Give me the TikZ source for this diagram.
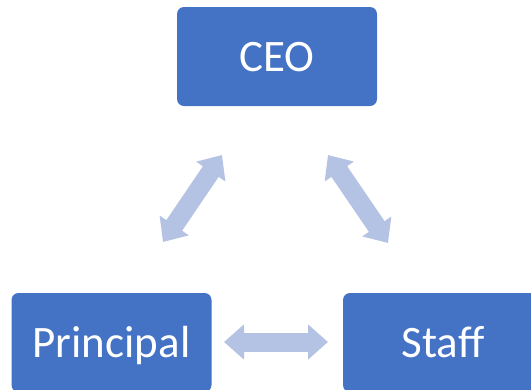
\documentclass[tikz,border=0pt]{standalone}
\usepackage{fontspec}
\setmainfont{Carlito}
\usetikzlibrary{arrows.meta}
\definecolor{boxblue}{RGB}{68,114,196}
\definecolor{arrowblue}{RGB}{180,194,227}
\begin{document}
\begin{tikzpicture}[x=1pt,y=-1pt]
    \tikzset{every node/.style={font=\fontsize{45}{54}\selectfont, text=white},
        role/.style={fill=boxblue, rounded corners=7pt, minimum width=200pt,
            minimum height=99pt, inner sep=0pt, text height=29pt, text depth=0pt},
        link/.style={arrowblue, line width=19pt,
            {Triangle[width=34pt,length=20pt]}-{Triangle[width=34pt,length=20pt]}}}
    \useasboundingbox (0,0) rectangle (531,389);
    \clip (0,0) rectangle (531,389);
    % boxes
    \node[role] (ceo) at (277,56.5) {CEO};
    \node[role] (principal) at (111.5,342.5) {Principal};
    \node[role] (staff) at (443,342.5) {Staff};
    % arrow ends
    \coordinate (ceo-l) at (222,155);
    \coordinate (ceo-r) at (328,155);
    \coordinate (principal-t) at (163,242);
    \coordinate (principal-r) at (224,342);
    \coordinate (staff-t) at (388,243);
    \coordinate (staff-l) at (328,342);
    % links
    \draw[link] (principal-t) -- (ceo-l);
    \draw[link] (ceo-r) -- (staff-t);
    \draw[link] (principal-r) -- (staff-l);
\end{tikzpicture}
\end{document}
